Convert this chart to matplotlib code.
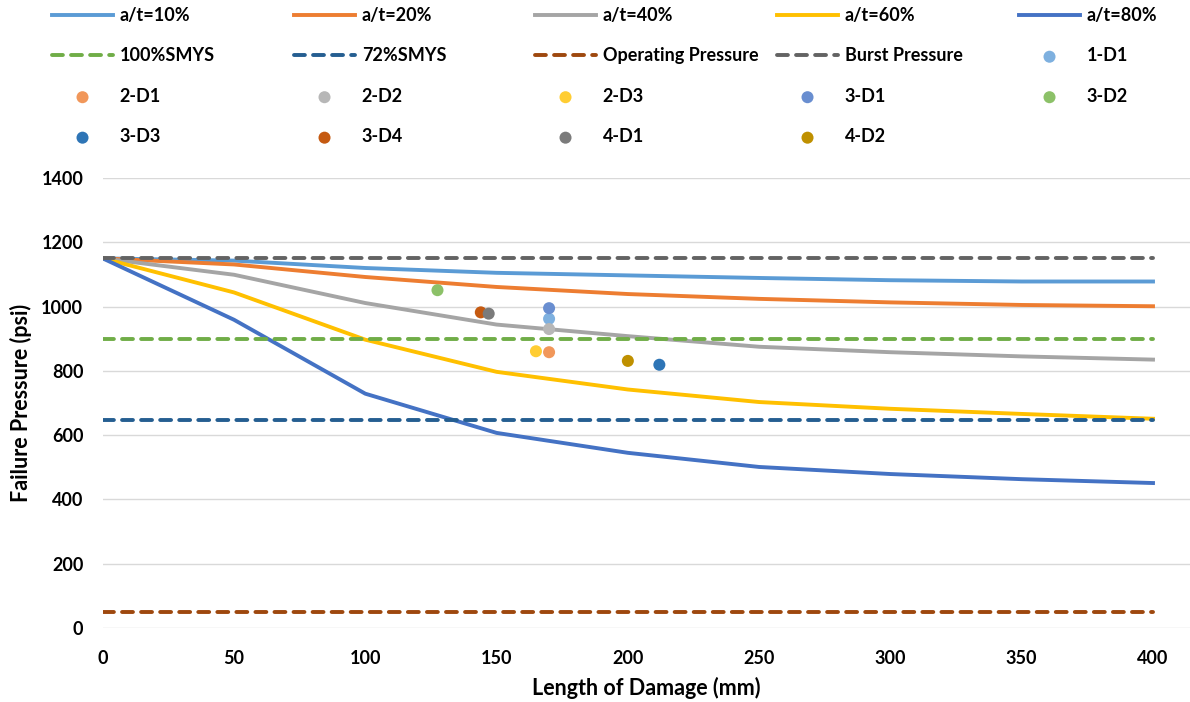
import numpy as np
import matplotlib
matplotlib.use("Agg")
import matplotlib.pyplot as plt

plt.rcParams['font.family'] = ['Lato', 'DejaVu Sans']

# curve data (length of damage mm -> failure pressure psi)
length = [0, 50, 100, 150, 200, 250, 300, 350, 400]
at10 = [1150, 1143, 1120, 1105, 1097, 1089, 1082, 1078, 1078]
at20 = [1150, 1131, 1092, 1061, 1039, 1024, 1013, 1005, 1001]
at40 = [1150, 1099, 1011, 944, 908, 875, 858, 845, 835]
at60 = [1150, 1044, 897, 797, 742, 703, 682, 666, 651]
at80 = [1150, 959, 729, 607, 545, 501, 479, 463, 451]

# reference pressures
smys100 = 900
smys72 = 648
operating = 50
burst = 1150

# test points
pt_names = ["1-D1", "2-D1", "2-D2", "2-D3", "3-D1", "3-D2", "3-D3", "3-D4", "4-D1", "4-D2"]
pt_x = [170, 170, 170, 165, 170, 127.5, 212, 144, 147, 200]
pt_y = [962, 858, 930, 861, 995, 1051, 819, 982, 978, 831]
pt_colors = ["#7EB0DF", "#F1975A", "#B7B7B7", "#FFCD33", "#698ED0", "#8CC168",
             "#2E75B6", "#C55A11", "#7B7B7B", "#BF9000"]

fig = plt.figure(figsize=(11.9, 7.02), dpi=100)
ax = fig.add_axes([102.7/1190, 74/702, (1190 - 102.7)/1190, 450/702])

lw = 2.8
dash = (2.8, 2.1)
handles = []
handles += ax.plot(length, at10, color="#5B9BD5", lw=lw, label="a/t=10%")
handles += ax.plot(length, at20, color="#ED7D31", lw=lw, label="a/t=20%")
handles += ax.plot(length, at40, color="#A5A5A5", lw=lw, label="a/t=40%")
handles += ax.plot(length, at60, color="#FFC000", lw=lw, label="a/t=60%")
handles += ax.plot(length, at80, color="#4472C4", lw=lw, label="a/t=80%")

xr = [length[0], length[-1]]
dkw = dict(lw=lw, dashes=dash, dash_capstyle='round')
handles += ax.plot(xr, [smys100]*2, color="#70AD47", label="100%SMYS", **dkw)
handles += ax.plot(xr, [smys72]*2, color="#255E91", label="72%SMYS", **dkw)
handles += ax.plot(xr, [operating]*2, color="#9E480E", label="Operating Pressure", **dkw)
handles += ax.plot(xr, [burst]*2, color="#636363", label="Burst Pressure", **dkw)

for n, x, y, c in zip(pt_names, pt_x, pt_y, pt_colors):
    handles.append(ax.scatter([x], [y], s=75, color=c, zorder=5, label=n, edgecolors='none'))

ax.set_xlim(0, 400 + 37/2.626)
ax.set_ylim(0, 1400)
ax.set_xticks(np.arange(0, 401, 50))
ax.set_yticks(np.arange(0, 1401, 200))
ax.grid(axis='y', color="#D9D9D9", lw=1)
ax.set_axisbelow(True)
for s in ax.spines.values():
    s.set_visible(False)
ax.tick_params(length=0, labelsize=13, colors="#000000", pad=14)
ax.tick_params(axis='x', pad=16)
for t in ax.get_xticklabels() + ax.get_yticklabels():
    t.set_fontweight('bold')
ax.set_xlabel("Length of Damage (mm)", fontsize=15.5, fontweight='bold', labelpad=7)
ax.set_ylabel("Failure Pressure (psi)", fontsize=15.5, fontweight='bold', labelpad=7)

# legend: 5 equal-width columns, filled row by row
col_x = [52, 294, 535, 777, 1019]
for j in range(5):
    hs = [handles[i] for i in range(j, len(handles), 5)]
    leg = fig.legend(handles=hs, loc='upper left',
                     bbox_to_anchor=(col_x[j]/1190, 1 - 7/702),
                     frameon=False, fontsize=13, handlelength=3.38,
                     handletextpad=0.37, labelspacing=1.3, borderpad=0,
                     borderaxespad=0, scatterpoints=1)
    for t in leg.get_texts():
        t.set_fontweight('bold')

fig.savefig("out.png", dpi=100)
